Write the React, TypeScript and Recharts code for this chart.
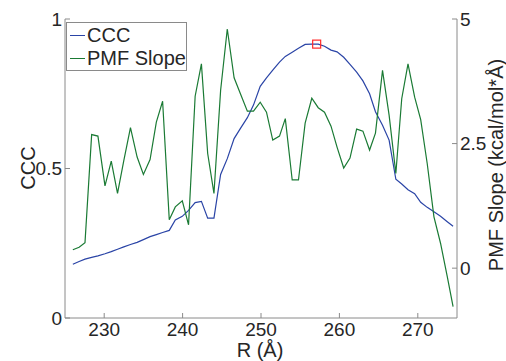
import React from 'react';
import { LineChart, Line, XAxis, YAxis, ReferenceDot } from 'recharts';

// R (Å) sample positions
const rValues = [
  226.0, 226.8, 227.55, 228.4, 229.2, 230.1, 230.9, 231.7, 232.5, 233.35,
  234.2, 235.0, 235.85, 236.65, 237.45, 238.3, 239.07, 239.96, 240.76, 241.6,
  242.4, 243.2, 244.0, 244.85, 245.7, 246.57, 247.4, 248.26, 249.04, 249.9,
  250.7, 251.5, 252.36, 253.1, 253.98, 254.78, 255.63, 256.48, 257.3, 258.1,
  258.93, 259.7, 260.55, 261.35, 262.2, 263.0, 263.85, 264.6, 265.5, 266.34,
  267.2, 267.95, 268.75, 269.6, 270.37, 271.2, 272.06, 272.9, 273.76, 274.5,
];

const cccValues = [
  0.18, 0.189, 0.197, 0.203, 0.208, 0.215, 0.222, 0.23, 0.238, 0.246,
  0.253, 0.262, 0.272, 0.279, 0.286, 0.293, 0.328, 0.34, 0.36, 0.386,
  0.39, 0.334, 0.334, 0.48, 0.533, 0.6, 0.635, 0.67, 0.712, 0.775,
  0.803, 0.829, 0.856, 0.875, 0.889, 0.902, 0.915, 0.916, 0.916, 0.909,
  0.896, 0.89, 0.872, 0.848, 0.822, 0.793, 0.75, 0.69, 0.645, 0.595,
  0.464, 0.448, 0.429, 0.416, 0.387, 0.37, 0.355, 0.34, 0.322, 0.307,
];

const pmfValues = [
  0.37, 0.42, 0.51, 2.68, 2.65, 1.65, 2.15, 1.5, 2.16, 2.82,
  2.23, 1.88, 2.18, 2.93, 3.35, 0.97, 1.23, 1.35, 0.87, 3.45,
  4.1, 2.3, 1.5, 3.57, 4.8, 3.82, 3.49, 3.15, 3.15, 3.33,
  3.13, 2.57, 2.65, 3.0, 1.77, 1.77, 2.91, 3.41, 3.22, 3.13,
  2.85, 2.43, 2.01, 2.21, 2.79, 2.75, 2.37, 2.71, 3.97, 3.07,
  1.9, 3.4, 4.1, 3.43, 2.98, 2.1, 1.03, 0.5, -0.17, -0.77,
];

const xTicks = [230, 240, 250, 260, 270];
const cccTicks = [0, 0.5, 1];
const pmfTicks = [0, 2.5, 5];
const bestFit = { r: 257.1, ccc: 0.916 };

const data = rValues.map((r, i) => ({ r, ccc: cccValues[i], pmf: pmfValues[i] }));

const FONT = "'Liberation Sans', Arial, Helvetica, sans-serif";
const AXIS = '#8a8a8a';
const TEXT = '#262626';
const BLUE = '#2a44a6';
const GREEN = '#1a7a34';

const tickStyle = { fill: TEXT, fontSize: 19, fontFamily: FONT };

const Square = (p: any) => (
  <rect x={p.cx - 4} y={p.cy - 4} width={8} height={8} fill="none" stroke="#ff2a2a" strokeWidth={1.2} />
);

const App: React.FC = () => {
  return (
    <div style={{ position: 'absolute', left: 0, top: 0, width: 506, height: 361, background: '#fff', fontFamily: FONT }}>
      <LineChart width={506} height={361} data={data} margin={{ top: 19, right: 0, bottom: 0, left: 0 }}>
        <XAxis
          dataKey="r"
          type="number"
          domain={[225, 275]}
          ticks={xTicks}
          height={43}
          tickSize={-5}
          tickMargin={10}
          stroke={AXIS}
          tick={tickStyle}
          label={{
            content: () => (
              <text x={260} y={357} textAnchor="middle" fill={TEXT} fontSize={20} fontFamily={FONT}>R (Å)</text>
            ),
          }}
        />
        <XAxis
          xAxisId="top"
          orientation="top"
          dataKey="r"
          type="number"
          domain={[225, 275]}
          ticks={xTicks}
          height={0}
          tickSize={-5}
          tick={false}
          stroke={AXIS}
        />
        <YAxis
          yAxisId="ccc"
          domain={[0, 1]}
          ticks={cccTicks}
          width={65}
          tickSize={-5}
          tickMargin={8}
          stroke={AXIS}
          tick={tickStyle}
          label={{
            content: () => (
              <text x={28} y={168} transform="rotate(-90 28 168)" textAnchor="middle" dominantBaseline="central" fill={TEXT} fontSize={20} fontFamily={FONT}>CCC</text>
            ),
          }}
        />
        <YAxis
          yAxisId="pmf"
          orientation="right"
          domain={[-1, 5]}
          ticks={pmfTicks}
          width={49}
          tickSize={-5}
          tickMargin={8}
          stroke={AXIS}
          tick={tickStyle}
          label={{
            content: () => (
              <text x={496} y={165} transform="rotate(-90 496 165)" textAnchor="middle" dominantBaseline="central" fill={TEXT} fontSize={20} fontFamily={FONT}>PMF Slope (kcal/mol*Å)</text>
            ),
          }}
        />
        <Line yAxisId="ccc" dataKey="ccc" stroke={BLUE} strokeWidth={1.2} dot={false} isAnimationActive={false} />
        <Line yAxisId="pmf" dataKey="pmf" stroke={GREEN} strokeWidth={1.2} dot={false} isAnimationActive={false} />
        <ReferenceDot yAxisId="ccc" x={bestFit.r} y={bestFit.ccc} shape={Square} />
      </LineChart>
      <div
        style={{
          position: 'absolute', left: 66, top: 22, width: 121, height: 49, boxSizing: 'border-box',
          border: `1px solid ${AXIS}`, background: '#fff', color: TEXT, fontSize: 20, lineHeight: '23px',
          padding: '1px 0 0 3px', whiteSpace: 'nowrap',
        }}
      >
        {[{ name: 'CCC', color: BLUE }, { name: 'PMF Slope', color: GREEN }].map((item) => (
          <div key={item.name} style={{ display: 'flex', alignItems: 'center', height: 23 }}>
            <span style={{ display: 'inline-block', flex: 'none', width: 15, height: 0, borderTop: `1.2px solid ${item.color}`, marginRight: 2 }} />
            <span>{item.name}</span>
          </div>
        ))}
      </div>
    </div>
  );
};

export default App;
